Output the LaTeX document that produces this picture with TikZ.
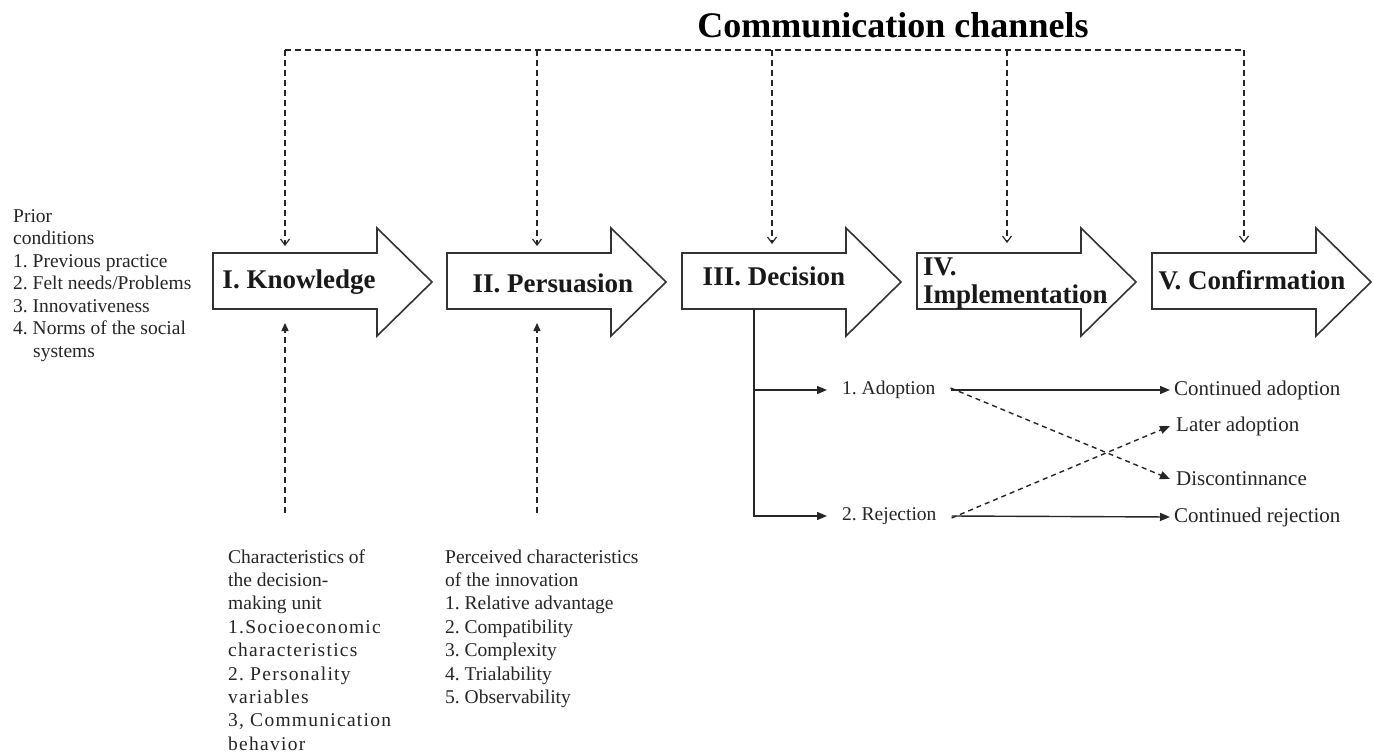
\documentclass[tikz,border=0pt]{standalone}
\usepackage{fontspec}
\setmainfont{Liberation Serif}
\newfontfamily\widefont[LetterSpace=6.5]{Liberation Serif}
\usetikzlibrary{arrows.meta}
\frenchspacing
\newcommand\mylines[1]{{\def\arraystretch{1}\begin{tabular}[t]{@{}l@{}}#1\end{tabular}}}
\tikzset{
  blk/.style={draw=black!80, line width=1.6pt, fill=white, line join=miter},
  lbl/.style={font=\bfseries\fontsize{27}{30}\selectfont, inner sep=0pt, text=black!90},
  sm/.style={font=\fontsize{19.5}{23.4}\selectfont, inner sep=0pt, text=black!85},
  outtxt/.style={font=\fontsize{21}{24}\selectfont, inner sep=0pt, text=black!85},
  dsh/.style={draw=black!85, line width=1.4pt, dash pattern=on 6pt off 4pt},
  ln/.style={draw=black!85, line width=1.4pt},
  dtip/.style={-{Straight Barb[length=6pt,width=9pt,line width=1.2pt]}},
  utip/.style={-{Triangle[length=8pt,width=7pt]}},
  rtip/.style={-{Triangle[length=10pt,width=8pt]}},
}
\newcommand\blockarrow[1]{%
  \draw[blk] (#1,253) -- ++(164,0) -- ++(0,-25) -- ++(55,54) -- ++(-55,54) -- ++(0,-27) -- ++(-164,0) -- cycle;}
\begin{document}
\begin{tikzpicture}[x=1pt,y=-1pt]
\fill[white] (0,0) rectangle (1374,752);
\useasboundingbox (0,0) rectangle (1374,752);

% title
\node[font=\bfseries\fontsize{36}{40}\selectfont, inner sep=0pt, anchor=base] (title) at (893,38) {Communication channels};

% block arrows
\blockarrow{213}
\blockarrow{447}
\blockarrow{682}
\blockarrow{917}
\blockarrow{1152}
\node[lbl, anchor=base] (know) at (299,288) {I. Knowledge};
\node[lbl, anchor=base] (pers) at (553,292) {II. Persuasion};
\node[lbl, anchor=base] (deci) at (774,285) {III. Decision};
\node[lbl, anchor=base west] (impl1) at (923,275) {IV.};
\node[lbl, anchor=base west] (impl2) at (923,303) {Implementation};
\node[lbl, anchor=base] (conf) at (1252,289) {V. Confirmation};

% communication channels
\coordinate (c1) at (285,50);
\coordinate (c2) at (537,50);
\coordinate (c3) at (772,50);
\coordinate (c4) at (1007,50);
\coordinate (c5) at (1244,50);
\coordinate (t1) at (285,246);
\coordinate (t2) at (537,246);
\coordinate (t3) at (772,244);
\coordinate (t4) at (1007,243);
\coordinate (t5) at (1244,243);
\draw[dsh] (c1) -- (c5);
\draw[dsh, dtip] (c1) -- (t1);
\draw[dsh, dtip] (c2) -- (t2);
\draw[dsh, dtip] (c3) -- (t3);
\draw[dsh, dtip] (c4) -- (t4);
\draw[dsh, dtip] (c5) -- (t5);

% prior conditions
\node[sm, anchor=base west, font=\fontsize{19.5}{22.5}\selectfont] (prior) at (13,222) {\mylines{Prior\\conditions\\1. Previous practice\\2. Felt needs/Problems\\3. Innovativeness\\4. Norms of the social\\\hspace{20pt}systems}};

% lower texts
\node[sm, anchor=base west] (dmu) at (228,563) {\mylines{Characteristics of\\the decision-\\making unit\\{\widefont 1.Socioeconomic}\\{\widefont characteristics}\\{\widefont 2. Personality}\\{\widefont variables}\\{\widefont 3, Communication}\\{\widefont behavior}}};
\node[sm, anchor=base west] (pci) at (445,563) {\mylines{Perceived characteristics\\of the innovation\\1. Relative advantage\\2. Compatibility\\3. Complexity\\4. Trialability\\5. Observability}};
\coordinate (b1) at (285,513);
\coordinate (u1) at (285,323);
\coordinate (b2) at (537,513);
\coordinate (u2) at (537,323);
\draw[dsh, utip] (b1) -- (u1);
\draw[dsh, utip] (b2) -- (u2);

% decision outcomes
\coordinate (dB) at (754,309);
\node[sm, anchor=west, inner xsep=15pt] (adopt) at (827,390) {1. Adoption};
\node[sm, anchor=west, inner xsep=15pt] (reject) at (827,516) {2. Rejection};
\draw[ln, rtip] (dB) |- (reject.west);
\draw[ln, rtip] (dB |- adopt.west) -- (adopt.west);

\node[outtxt, anchor=west, inner xsep=4pt] (cadopt) at (1170,390) {Continued adoption};
\node[outtxt, anchor=west, inner xsep=6pt] (later) at (1170,426) {Later adoption};
\node[outtxt, anchor=west, inner xsep=6pt] (disc) at (1170,479) {Discontinnance};
\node[outtxt, anchor=west, inner xsep=4pt] (creject) at (1170,517) {Continued rejection};

\draw[ln, rtip] (adopt.east) -- (cadopt.west);
\draw[ln, rtip] (reject.east) -- (creject.west);
\draw[dsh, rtip, dash pattern=on 5pt off 4pt] ([yshift=2pt]adopt.east) -- (disc.west);
\draw[dsh, rtip, dash pattern=on 5pt off 4pt] ([yshift=-2pt]reject.east) -- (later.west);
\end{tikzpicture}
\end{document}
